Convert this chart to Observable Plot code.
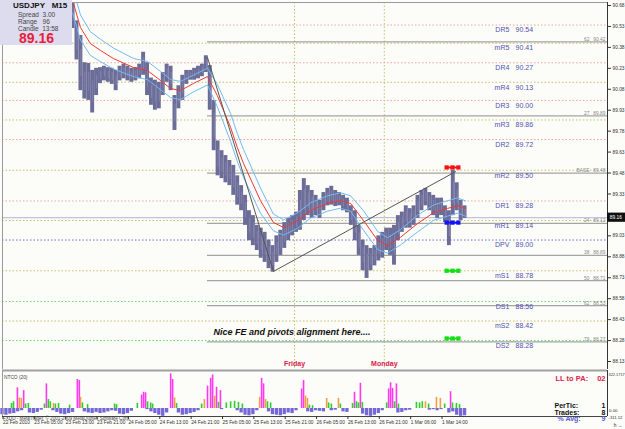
<!DOCTYPE html>
<html><head><meta charset="utf-8">
<script src="https://cdn.jsdelivr.net/npm/d3@7"></script>
<script src="https://cdn.jsdelivr.net/npm/@observablehq/plot@0.6"></script>
<style>
body{margin:0;background:#fff;font-family:"Liberation Sans",Arial,sans-serif;}
#wrap{position:relative;width:625px;height:429px;overflow:hidden;background:#fcfcf8;}
#main{position:absolute;left:0;top:0;}
#ind{position:absolute;left:0;top:368px;}
#info{position:absolute;left:0;top:0;width:72px;height:45px;background:#dcdcee;}
#info div{position:absolute;white-space:nowrap;}
</style></head><body>
<div id="wrap"><div id="main"></div><div id="ind"></div>
<div id="info">
  <div style="left:13px;top:1px;font-weight:bold;font-size:8px;color:#111;">USDJPY&nbsp;&nbsp;&nbsp;M15</div>
  <div style="left:18px;top:11px;font-size:6.5px;color:#444;">Spread&nbsp;&nbsp;3.00</div>
  <div style="left:18px;top:18px;font-size:6.5px;color:#444;">Range&nbsp;&nbsp;&nbsp;96</div>
  <div style="left:18px;top:24.5px;font-size:6.5px;color:#444;">Candle&nbsp;&nbsp;13:58</div>
  <div style="left:19px;top:30px;font-size:14px;font-weight:bold;color:#e8203a;">89.16</div>
</div>
</div>
<script>
// ---------- data ----------
const hourTicks = [0,8,16,24,32,40,48,56,64,72,80,88,96,104,112];
const tickLabels = ["22 Feb 2010","23 Feb 05:00","23 Feb 13:00","23 Feb 21:00","24 Feb 05:00","24 Feb 13:00","24 Feb 21:00","25 Feb 05:00","25 Feb 13:00","25 Feb 21:00","26 Feb 05:00","26 Feb 13:00","26 Feb 21:00","1 Mar 06:00","1 Mar 14:00"];
// 89.18 sits under the current-price box, so its label is not shown
const priceTicks = [90.68,90.53,90.38,90.23,90.08,89.93,89.78,89.63,89.48,89.33,89.03,88.88,88.73,88.58,88.43,88.28,88.13];

const barStart = 18;
const barHigh = [90.72,90.57,90.465,90.27,90.265,90.215,90.23,90.235,90.245,90.235,90.23,90.215,90.245,90.26,90.245,90.23,90.235,90.26,90.345,90.27,90.16,90.145,90.13,90.2,90.26,90.245,90.035,90.105,90.18,90.215,90.215,90.23,90.245,90.26,90.32,90.25,90.0,89.71,89.64,89.605,89.57,89.535,89.46,89.39,89.32,89.21,89.175,89.105,89.085,89.055,89.0,88.96,89.03,89.07,89.125,89.155,89.175,89.2,89.355,89.44,89.39,89.355,89.32,89.285,89.34,89.37,89.385,89.355,89.34,89.32,89.3,89.245,89.21,89.105,89.0,88.96,88.94,88.96,89.03,89.055,89.085,89.085,89.105,89.175,89.2,89.245,89.225,89.245,89.32,89.355,89.37,89.34,89.32,89.3,89.3,89.245,89.21,89.5,89.41,89.285,89.245];
const barLow = [90.515,90.29,90.07,90.01,90.0,89.91,90.035,90.12,90.14,90.13,90.115,90.07,90.14,90.155,90.14,90.13,90.14,90.155,90.18,90.035,89.965,89.93,89.94,90.035,90.13,90.07,89.785,89.94,90.0,90.115,90.145,90.145,90.155,90.17,90.2,89.93,89.64,89.46,89.44,89.41,89.39,89.32,89.25,89.21,89.105,88.995,88.96,88.925,88.87,88.84,88.795,88.77,88.84,88.89,88.94,88.995,89.03,89.055,89.07,89.14,89.175,89.155,89.175,89.155,89.21,89.245,89.25,89.24,89.245,89.21,89.195,89.105,88.995,88.89,88.78,88.725,88.78,88.815,88.85,88.87,88.925,88.89,88.82,88.995,89.055,89.085,89.085,89.105,89.155,89.21,89.245,89.21,89.175,89.155,89.175,89.125,88.96,89.175,89.21,89.14,89.155];

const maHours = [17.9,19.9,22.4,25.0,28.3,33.4,37.0,40.3,42.9,45.4,48.7,52.3,54.8,58.2,59.9,61.5,65.8,69.1,71.7,75.3,78.6,82.9,86.2,88.8,92.1,95.7,98.2,101.5,105.9,110.0,113.5,116.1,118.1];
const maMid = [90.716,90.522,90.408,90.358,90.30,90.236,90.214,90.143,90.085,90.071,90.121,90.171,90.035,89.806,89.663,89.548,89.283,89.126,89.09,89.14,89.212,89.262,89.283,89.262,89.14,88.997,88.961,89.019,89.118,89.197,89.226,89.247,89.226];
const maUpper = [90.806,90.612,90.493,90.438,90.375,90.301,90.279,90.208,90.15,90.136,90.181,90.231,90.115,89.906,89.763,89.648,89.373,89.186,89.145,89.195,89.267,89.317,89.338,89.317,89.21,89.062,89.016,89.074,89.178,89.252,89.281,89.302,89.281];
const maLower = [90.626,90.432,90.323,90.278,90.225,90.171,90.149,90.078,90.02,90.006,90.061,90.111,89.955,89.706,89.563,89.448,89.193,89.066,89.035,89.085,89.157,89.207,89.228,89.207,89.07,88.932,88.906,88.964,89.058,89.142,89.171,89.192,89.171];

const pivotNames = ["DR5","mR5","DR4","mR4","DR3","mR3","DR2","mR2","DR1","mR1","DPV","mS1","DS1","mS2","DS2"];
const pivotValues = [90.54,90.41,90.27,90.13,90.00,89.86,89.72,89.50,89.28,89.14,89.00,88.78,88.56,88.42,88.28];

const fibLabels = ["62","27","BASE","24","38","50","62","79"];
const fibValues = [90.42,89.89,89.48,89.12,88.89,88.71,88.53,88.27];
const fibStartHour = 52.3;

const trendHours = [52.3,69.1,115.6];
const trendPrices = [90.307,88.775,89.49];

const dayLineHours = [74.5,97.4];
const dayNames = ["Friday","Monday"];
const bidPrice = 89.16;

const markerHours = [113.3,114.8,116.3];
const markerPrices = [89.52,89.125,88.78,88.295];
const markerColors = ["#ff1010","#1010ff","#10e010","#10e010"];

// indicator (NTCO 20)
const posHours = [2.3,2.8,3.8,4.3,4.8,5.4,5.9,6.6,10.7,11.2,11.7,12.2,13.0,13.5,14.3,17.1,19.1,19.6,19.9,20.4,21.7,28.6,29.1,34.4,35.5,36.0,36.5,37.0,37.8,38.3,42.9,43.4,43.9,44.4,50.8,51.5,52.3,53.1,53.6,54.1,54.6,55.1,55.6,57.1,58.2,59.2,60.2,61.2,65.6,66.1,66.6,67.1,67.6,68.4,76.3,76.8,77.3,77.8,78.3,79.1,82.7,83.2,83.9,85.7,86.2,89.3,89.8,90.3,90.8,91.3,91.8,98.0,98.5,99.0,99.5,100.0,100.5,101.0,105.6,106.4,107.1,107.9,108.7,110.7,111.7,112.8,114.3,114.8,115.8,116.6];
const posValues = [45,60,185,95,90,160,40,45,40,220,80,60,45,40,45,30,260,250,100,50,35,40,35,45,120,145,140,60,50,40,310,260,95,45,40,80,200,270,300,110,190,55,160,50,60,65,55,40,100,270,220,80,60,50,175,250,110,90,30,25,90,50,40,90,40,45,145,60,50,225,55,50,175,230,180,60,220,40,55,50,60,60,40,100,90,40,150,50,45,35];
const posKinds = ["g","g","m","o","o","m","g","g","g","m","g","g","o","g","g","g","m","m","o","g","g","g","g","g","m","m","m","g","g","g","m","m","o","g","g","o","m","m","m","o","m","g","m","g","g","g","g","g","o","m","m","o","g","g","m","m","o","o","g","g","o","g","g","o","g","g","m","g","g","m","g","g","m","m","m","g","m","g","g","g","g","o","g","o","o","g","m","g","g","g"];
const negValues = [-55,-60,-50,-45,-30,-20,0,-40,-45,-35,-15,0,0,-20,-35,-50,-55,-45,-35,0,0,-30,-40,-45,-35,-45,-40,-30,-20,-25,-50,-55,-45,-25,0,0,0,-10,-30,-45,-60,-70,-40,0,0,-40,-60,-55,-45,-35,-20,0,0,0,0,0,-10,0,0,0,-20,-40,-60,-65,-55,-20,0,0,-30,-55,-60,-65,-55,-40,-45,-20,0,0,-30,-35,-20,-25,-30,0,-20,-15,0,-30,-35,0,0,0,-50,-65,-70,-60,-45,-20,0,0,0,-40,-35,-20,-15,0,0,0,0,-15,-10,-20,-10,0,-40,-30,-60,-70,-65];
const kindColor = {g:"#30cc30", m:"#ff38f0", o:"#f0a040"};

const statNames = ["PerTic:","Trades:","% Avg:"];
const statValues = ["1","8","9"];
const indScaleLabels = ["322.1717","0.00","-311.12"];

// ---------- build tables ----------
const bars = barHigh.map((hi,i)=>({h: barStart+i, hi, lo: barLow[i]}));
const ma = maHours.map((h,i)=>({h, mid: maMid[i], up: maUpper[i], lo: maLower[i]}));
const pivots = pivotNames.map((name,i)=>({name, v: pivotValues[i]}));
const pivotColor = n => n==="DPV" ? "#6a6aea" : n.startsWith("DR") ? "#f4a4a0" : n.startsWith("DS") ? "#70d470" : "#c8c070";
const fibs = fibLabels.map((l,i)=>({l, v: fibValues[i]}));
const trend = trendHours.map((h,i)=>({h, p: trendPrices[i]}));
const markers = markerPrices.flatMap((p,j)=>markerHours.map(h=>({h, p, c: markerColors[j], j})));
const markerRows = markerPrices.map((p,j)=>({p, c: markerColors[j]}));
const pos = posHours.map((h,i)=>({h, v: posValues[i], c: kindColor[posKinds[i]]}));
const neg = negValues.map((v,i)=>({h: i, v})).filter(d=>d.v<0);

const FONT = "'Liberation Sans', Arial, sans-serif";
const XDOM = [0, 154.34];

const main = Plot.plot({
  width: 625, height: 370,
  marginLeft: 2, marginRight: 18, marginTop: 2, marginBottom: 1,
  x: {domain: XDOM, axis: null},
  y: {domain: [88.0727, 90.7015], axis: null},
  color: {type: "identity"},
  style: {background: "transparent", fontFamily: FONT, overflow: "visible"},
  marks: [
    Plot.ruleX(dayLineHours, {stroke: "#c8c070", strokeDasharray: "1.5,2"}),
    Plot.ruleY(pivots, {y: "v", stroke: d => pivotColor(d.name), strokeDasharray: "1.5,2", strokeWidth: 1}),
    Plot.ruleY(fibs, {y: "v", x1: fibStartHour, x2: XDOM[1], stroke: "#a4a4a4", strokeWidth: 1.3}),
    Plot.ruleY([bidPrice], {stroke: "#b4b4d6", strokeWidth: 1}),
    Plot.text(fibs, {x: 153.8, y: d => d.v + 0.018, text: d => d.l + "   " + d.v.toFixed(2), textAnchor: "end", fontSize: 4.8, fill: "#888"}),
    Plot.rect(bars, {x1: d => d.h - 0.5, x2: d => d.h + 0.5, y1: "lo", y2: "hi", fill: "#6c6c98", clip: true}),
    Plot.ruleX(bars, {x: d => d.h, y1: d => d.lo + 0.25 * (d.hi - d.lo), y2: d => d.hi - 0.25 * (d.hi - d.lo), stroke: "#8888b0", strokeWidth: 0.8, clip: true}),
    Plot.line(ma, {x: "h", y: "up", stroke: "#72baf4", strokeWidth: 1, clip: true}),
    Plot.line(ma, {x: "h", y: "lo", stroke: "#72baf4", strokeWidth: 1, clip: true}),
    Plot.line(ma, {x: "h", y: "mid", stroke: "#ea3a3a", strokeWidth: 1, clip: true}),
    Plot.line(trend, {x: "h", y: "p", stroke: "#555", strokeWidth: 1}),
    Plot.ruleY(markerRows, {y: "p", x1: 113.0, x2: 116.6, stroke: "c", strokeWidth: 2}),
    Plot.dot(markers, {x: "h", y: "p", symbol: "square", r: 2.4, fill: "c", stroke: "none"}),
    Plot.text(pivots, {x: 129.3, y: d => d.v - 0.036, text: "name", textAnchor: "end", fontSize: 7, fill: "#5252b4"}),
    Plot.text(pivots, {x: 130.9, y: d => d.v - 0.036, text: d => d.v.toFixed(2), textAnchor: "start", fontSize: 7, fill: "#5252b4"}),
    Plot.text(["Nice FE and pivots alignment here...."], {x: 53.8, y: 88.338, textAnchor: "start", fontSize: 9, fontWeight: "bold", fontStyle: "italic", fill: "#111"}),
    Plot.text(dayNames, {x: (d,i) => dayLineHours[i], y: 88.112, textAnchor: "middle", fontSize: 7, fontWeight: "bold", fill: "#d8204a"}),
    Plot.ruleX([0], {stroke: "#9a9a9a"}),
    Plot.ruleY([90.7015], {stroke: "#9a9a9a"}),
    Plot.ruleX([XDOM[1]], {stroke: "#333", strokeWidth: 1}),
    Plot.axisY(priceTicks, {anchor: "right", tickSize: 3, tickPadding: 2, fontSize: 4.8, tickFormat: d => d.toFixed(2), stroke: "#333", fill: "#333"}),
    Plot.rect([bidPrice], {x1: XDOM[1], x2: 160, y1: d => d - 0.033, y2: d => d + 0.033, fill: "#111"}),
    Plot.text([bidPrice], {x: XDOM[1] + 0.6, y: d => d, text: d => d.toFixed(2), textAnchor: "start", fontSize: 4.8, fill: "#fff"})
  ]
});
document.getElementById("main").appendChild(main);

// indicator panel: y domain chosen so that 0 sits at 408px and 322 at 372px
const IY = [-71.5, 340];
const ind = Plot.plot({
  width: 625, height: 61,
  marginLeft: 2, marginRight: 18, marginTop: 2, marginBottom: 13,
  x: {domain: XDOM, axis: null},
  y: {domain: IY, axis: null},
  color: {type: "identity"},
  style: {background: "transparent", fontFamily: FONT, overflow: "visible"},
  marks: [
    Plot.rect(neg, {x1: d => d.h - 0.42, x2: d => d.h + 0.42, y1: 0, y2: "v", fill: "#7468d6"}),
    Plot.ruleX(pos, {x: "h", y1: 0, y2: "v", stroke: "c", strokeWidth: 1.6}),
    Plot.ruleY([IY[1]], {stroke: "#a0a0a0", strokeWidth: 2}),
    Plot.ruleY([IY[0]], {stroke: "#444"}),
    Plot.ruleX([0], {stroke: "#9a9a9a"}),
    Plot.ruleX([XDOM[1]], {stroke: "#333"}),
    Plot.axisX(hourTicks, {anchor: "bottom", tickSize: 3, tickPadding: 1, fontSize: 4.8, textAnchor: "start", dx: 0.5, tickFormat: d => tickLabels[hourTicks.indexOf(d)], stroke: "#333", fill: "#333"}),
    Plot.text(["NTCO (20)"], {frameAnchor: "top-left", dx: 1.5, dy: 5, fontSize: 4.8, fill: "#444", textAnchor: "start"}),
    Plot.text(["FXDD - MetaTrader, \u00a9 2001-2009 MetaQuotes Software Corp."], {frameAnchor: "top-left", dx: 0.5, dy: 46.5, fontSize: 4.6, fill: "#444", textAnchor: "start"}),
    Plot.text(["LL to PA:"], {frameAnchor: "top-right", dx: -52, dy: 5, fontSize: 7.5, fontWeight: "bold", fill: "#e0204a", textAnchor: "start"}),
    Plot.text(["02"], {frameAnchor: "top-right", dx: -2, dy: 5, fontSize: 7.5, fontWeight: "bold", fill: "#e0204a", textAnchor: "end"}),
    Plot.text([statNames[0]], {frameAnchor: "top-right", dx: -53, dy: 33, fontSize: 7, fontWeight: "bold", fill: "#111", textAnchor: "start"}),
    Plot.text([statValues[0]], {frameAnchor: "top-right", dx: -2, dy: 33, fontSize: 7, fontWeight: "bold", fill: "#111", textAnchor: "end"}),
    Plot.text([statNames[1]], {frameAnchor: "top-right", dx: -53, dy: 39.5, fontSize: 7, fontWeight: "bold", fill: "#111", textAnchor: "start"}),
    Plot.text([statValues[1]], {frameAnchor: "top-right", dx: -2, dy: 39.5, fontSize: 7, fontWeight: "bold", fill: "#111", textAnchor: "end"}),
    Plot.text([statNames[2]], {frameAnchor: "top-right", dx: -50, dy: 46, fontSize: 7, fontWeight: "bold", fill: "#5a5ad0", textAnchor: "start"}),
    Plot.text([statValues[2]], {frameAnchor: "top-right", dx: -2, dy: 46, fontSize: 7, fontWeight: "bold", fill: "#5a5ad0", textAnchor: "end"}),
    Plot.text([indScaleLabels[0]], {frameAnchor: "top-right", dx: 1, dy: 3, fontSize: 3.9, fill: "#333", textAnchor: "start"}),
    Plot.text([indScaleLabels[1]], {frameAnchor: "top-right", dx: 1.5, dy: 38, fontSize: 4.4, fill: "#333", textAnchor: "start"}),
    Plot.text([indScaleLabels[2]], {frameAnchor: "top-right", dx: 1, dy: 45.5, fontSize: 4.2, fill: "#333", textAnchor: "start"})
  ]
});
document.getElementById("ind").appendChild(ind);
</script>
</body></html>
